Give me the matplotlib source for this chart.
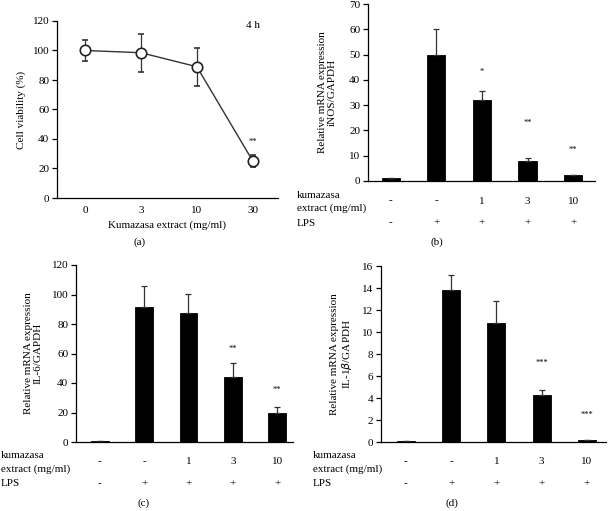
import matplotlib
matplotlib.use("Agg")
import matplotlib.pyplot as plt

plt.rcParams["font.family"] = ["Liberation Serif", "DejaVu Serif"]
plt.rcParams["font.size"] = 8
plt.rcParams["axes.linewidth"] = 0.9

W, H = 610, 511

# (a) cell viability
dose_labels = ["0", "3", "10", "30"]
viability = [100, 98.5, 89, 25]
viability_err = [7, 13, 13, 4]

# bar chart groups
kuma_row = ["-", "-", "1", "3", "10"]
lps_row = ["-", "+", "+", "+", "+"]

inos = [1.0, 50.0, 32.0, 8.0, 2.2]
inos_err = [0, 10.0, 3.5, 1.0, 0.3]
inos_stars = ["", "", "*", "**", "**"]

il6 = [1.0, 91.5, 87.5, 44.0, 20.0]
il6_err = [0, 14.5, 13.0, 9.5, 3.5]
il6_stars = ["", "", "", "**", "**"]

il1b = [0.05, 13.8, 10.8, 4.3, 0.15]
il1b_err = [0, 1.35, 2.0, 0.45, 0]
il1b_stars = ["", "", "", "***", "***"]

fig = plt.figure(figsize=(W / 100, H / 100), dpi=100)


def px_axes(x0, y_top, x1, y_bot):
    return fig.add_axes([x0 / W, 1 - y_bot / H, (x1 - x0) / W, (y_bot - y_top) / H])


def style(ax):
    for s in ["top", "right"]:
        ax.spines[s].set_visible(False)
    ax.tick_params(axis="y", direction="out", length=3.5, width=0.9, pad=2)


# ---- (a)
ax = px_axes(57, 21, 278, 198)
style(ax)
xs = range(len(viability))
ax.errorbar(xs, viability, yerr=viability_err, color="#333333", lw=1.0,
            capsize=2.5, elinewidth=0.9, capthick=0.9,
            marker="o", ms=7.5, mfc="white", mec="#222222", mew=1.2, zorder=3)
ax.set_xticks(list(xs))
ax.set_xticklabels(dose_labels)
ax.tick_params(axis="x", length=0, pad=6)
ax.set_xlim(-0.5, 3.45)
ax.set_ylim(0, 120)
ax.set_yticks(range(0, 121, 20))
ax.set_xlabel("Kumazasa extract (mg/ml)", labelpad=4)
ax.set_ylabel("Cell viability (%)")
ax.yaxis.set_label_coords(-0.14, 0.5)
ax.text(3, 38, "**", ha="center", va="center", fontsize=6)
ax.text(3, 117, "4 h", ha="center", va="center", fontsize=8)
fig.text(140 / W, 1 - 242 / H, "(a)", ha="center", va="center")


def bar_panel(box, vals, errs, stars, ymax, ystep, ylabel, label_coord, xlim,
              row_x, star_y, tag_xy):
    x0, y_top, x1, y_bot = box
    ax = px_axes(x0, y_top, x1, y_bot)
    style(ax)
    pos = list(range(len(vals)))
    ax.bar(pos, vals, width=0.4, color="black", edgecolor="black", lw=0.6)
    ax.errorbar(pos, vals, yerr=[[0] * len(errs), errs], fmt="none",
                ecolor="#333333", elinewidth=0.9, capsize=2.5, capthick=0.9)
    ax.set_xlim(*xlim)
    ax.set_ylim(0, ymax)
    ax.set_yticks(range(0, ymax + 1, ystep))
    ax.set_xticks([])
    ax.set_ylabel(ylabel, linespacing=1.1)
    ax.yaxis.set_label_coords(label_coord, 0.5)
    for p, s, yy in zip(pos, stars, star_y):
        if s:
            ax.text(p, yy, s, ha="center", va="center", fontsize=6)
    # rows under the axis
    h = y_bot - y_top
    tr = ax.get_xaxis_transform()
    for p, k, l in zip(pos, kuma_row, lps_row):
        ax.text(p, -20 / h, k, transform=tr, ha="center", va="center")
        ax.text(p, -42 / h, l, transform=tr, ha="center", va="center")
    fig.text(row_x / W, 1 - (y_bot + 14) / H, "kumazasa", ha="left", va="center")
    fig.text(row_x / W, 1 - (y_bot + 27) / H, "extract (mg/ml)", ha="left", va="center")
    fig.text(row_x / W, 1 - (y_bot + 42) / H, "LPS", ha="left", va="center")
    fig.text(tag_xy[0] / W, 1 - tag_xy[1] / H, tag_xy[2], ha="center", va="center")
    return ax


bar_panel((368, 4, 595, 181), inos, inos_err, inos_stars, 70, 10,
          "Relative mRNA expression\niNOS/GAPDH", -0.137, (-0.5, 4.48),
          297, [0, 0, 43, 23, 12.3], (437, 242, "(b)"))

bar_panel((76, 265, 293, 442), il6, il6_err, il6_stars, 120, 20,
          "Relative mRNA expression\nIL-6/GAPDH", -0.152, (-0.54, 4.36),
          1, [0, 0, 0, 63, 35], (144, 503, "(c)"))

bar_panel((381, 266, 606, 442), il1b, il1b_err, il1b_stars, 16, 2,
          "Relative mRNA expression\nIL-1$\\beta$/GAPDH", -0.12, (-0.55, 4.42),
          313, [0, 0, 0, 7.2, 2.5], (452, 503, "(d)"))

fig.savefig("out.png", dpi=100)
